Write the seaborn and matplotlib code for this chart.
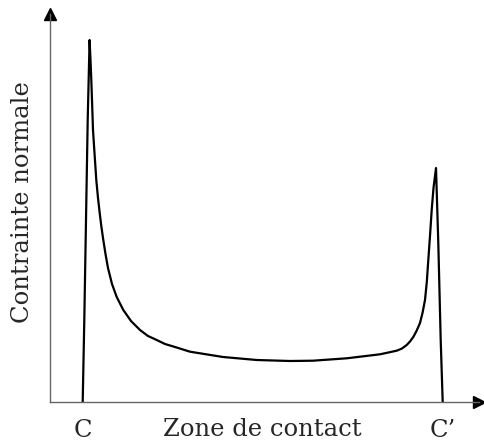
import matplotlib
matplotlib.use("Agg")
import matplotlib.pyplot as plt
import seaborn as sns
import pandas as pd

# Position along the contact zone (arbitrary units) and normal stress (arbitrary units)
position = [32.7, 34.3, 36.0, 37.7, 39.6, 40.5, 41.3, 42.0, 43.0, 44.3, 46.3, 48.0,
            49.7, 51.3, 53.0, 55.5, 58.0, 62.0, 66.7, 73.3, 81.0, 90.0, 98.0, 106.7,
            115.0, 125.0, 140.0, 173.0, 206.7, 240.0, 263.0, 296.7, 330.0, 346.7,
            352.0, 356.7, 360.0, 363.3, 366.5, 370.0, 372.5, 375.0, 376.8, 378.3,
            380.0, 381.7, 383.5, 386.0, 388.3, 390.7, 392.7]
contrainte = [0, 82, 182, 282, 362, 342, 322, 302, 272, 252, 222, 204,
              189, 176, 164, 148, 134, 118, 105, 92, 81, 72, 66, 62,
              58, 55, 50.3, 45, 42, 41, 41.3, 43.7, 47.7, 51.3,
              53.5, 57, 60.5, 65, 71, 79, 89, 102, 120, 142,
              166, 192, 214, 234, 159, 62, 0]
tick_positions = [32.7, 392.7]
tick_labels = ["C", "C\u2019"]
xlabel = "Zone de contact"
ylabel = "Contrainte normale"

sns.set_style("white")
plt.rcParams["font.family"] = ["DejaVu Serif"]

W, H = 485, 443
fig = plt.figure(figsize=(W / 100, H / 100), dpi=100)
left, bottom, right, top = 50, 402, 479, 14
ax = fig.add_axes([left / W, 1 - bottom / H, (right - left) / W, (bottom - top) / H])

df = pd.DataFrame({"x": position, "y": contrainte})
sns.lineplot(data=df, x="x", y="y", ax=ax, color="black", linewidth=1.6,
             sort=False, estimator=None)

ax.set_xlim(0, right - left)
ax.set_ylim(0, bottom - top)
for s in ["top", "right"]:
    ax.spines[s].set_visible(False)
for s in ["left", "bottom"]:
    ax.spines[s].set_color("#666666")
    ax.spines[s].set_linewidth(1.0)

fs = 17.5
ax.set_yticks([])
ax.set_xticks(tick_positions)
ax.set_xticklabels(tick_labels, fontsize=fs)
ax.tick_params(axis="x", length=0, pad=12)

ax.set_xlabel(xlabel, fontsize=fs)
ax.xaxis.set_label_coords((262 - left) / (right - left), -(429 - bottom) / (bottom - top), transform=ax.transAxes)
ax.xaxis.label.set_va("center")
ax.set_ylabel(ylabel, fontsize=fs)
ax.yaxis.set_label_coords(-(left - 23) / (right - left), (bottom - 202) / (bottom - top), transform=ax.transAxes)
ax.yaxis.label.set_va("center")

# axis arrows
ax.plot(1, 0, ">", color="black", markersize=8, transform=ax.transAxes, clip_on=False)
ax.plot(0, 1, "^", color="black", markersize=8, transform=ax.transAxes, clip_on=False)

fig.savefig("out.png", dpi=100)
